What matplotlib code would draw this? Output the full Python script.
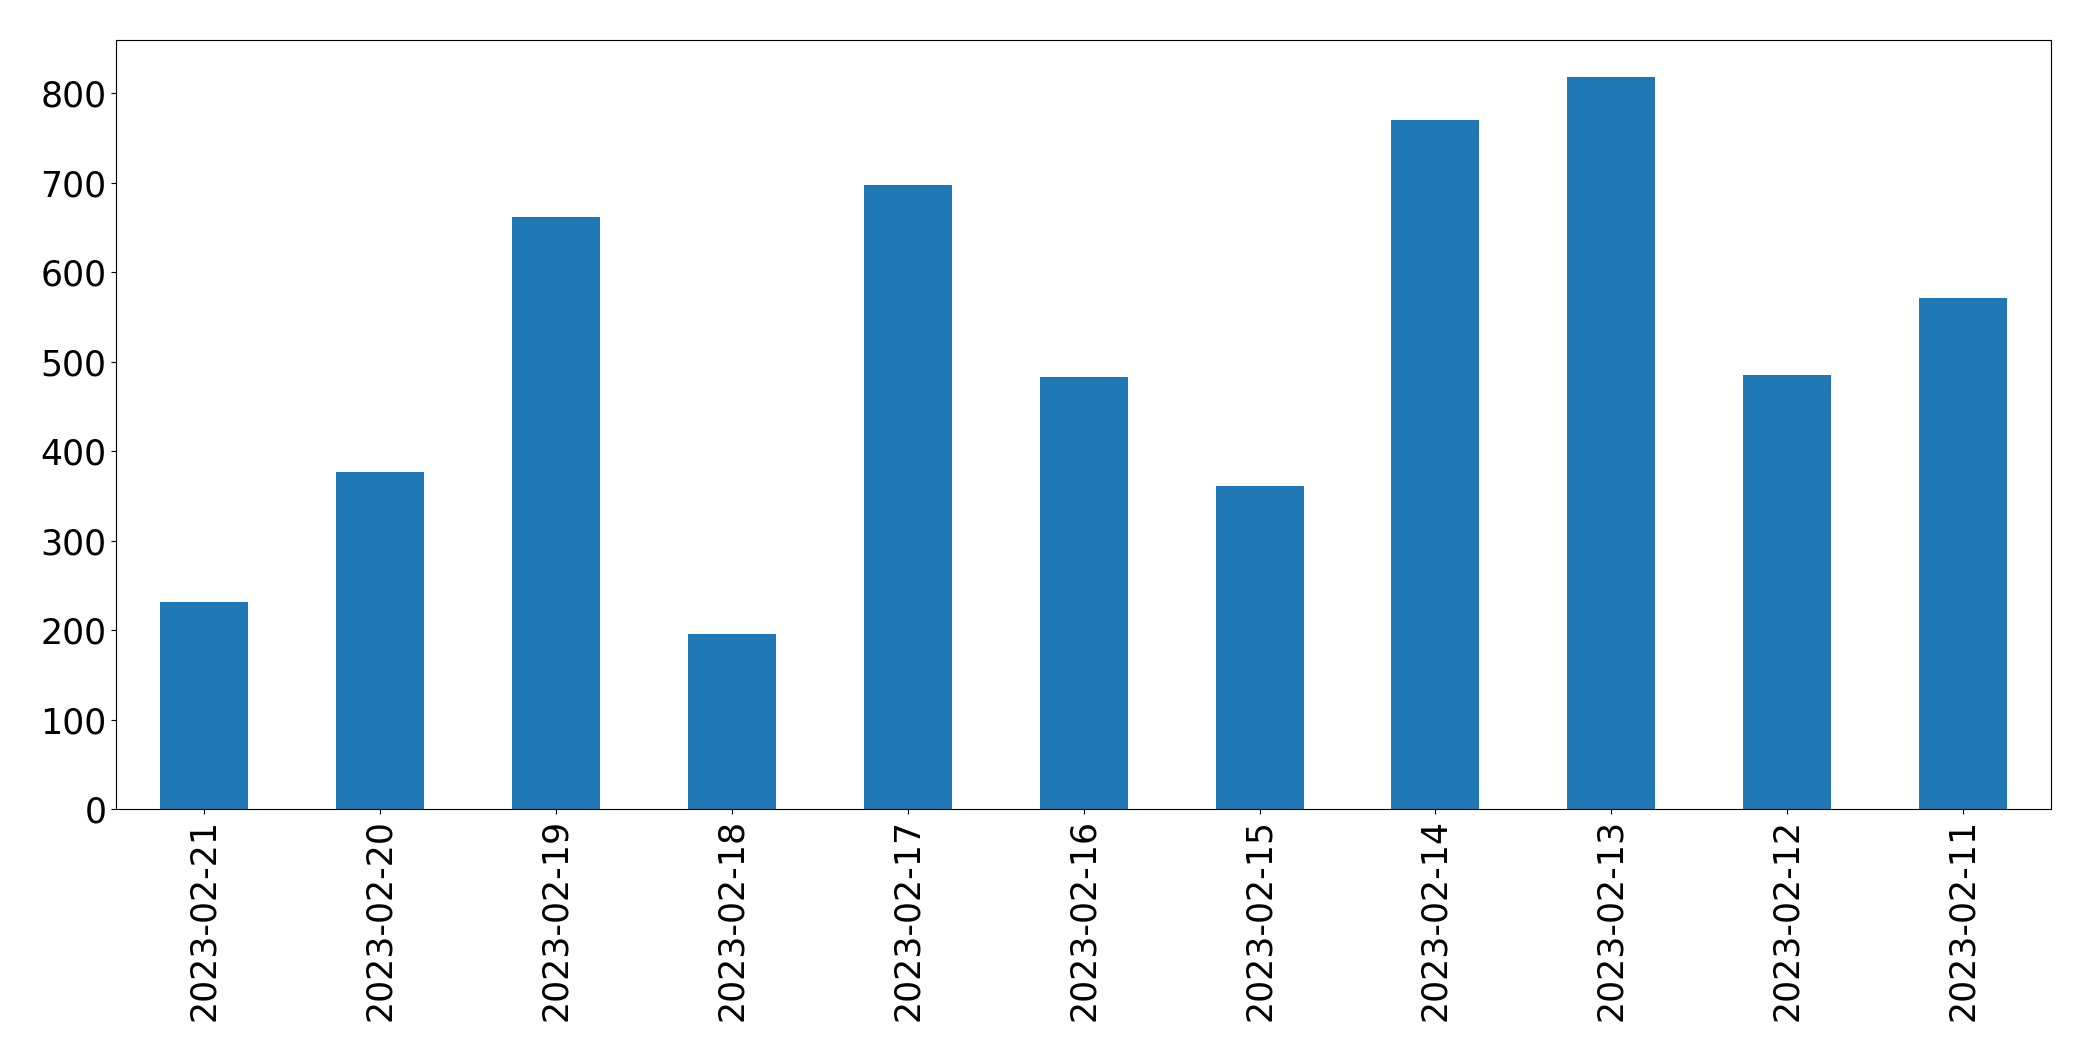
import matplotlib
matplotlib.use("Agg")
import matplotlib.pyplot as plt
import numpy as np

dates = ['2023-02-21', '2023-02-20', '2023-02-19', '2023-02-18', '2023-02-17', '2023-02-16',
         '2023-02-15', '2023-02-14', '2023-02-13', '2023-02-12', '2023-02-11']
counts = [231, 377, 661, 196, 697, 483, 361, 770, 818, 485, 571]

def main():
    fig = plt.figure(figsize=(20.93, 10.61), dpi=100)
    ax = fig.add_axes([0.0555, 0.2375, 0.9245, 0.7245])

    x = np.arange(len(dates))
    ax.bar(x, counts, width=0.5, color='#1f77b4')

    ax.set_xlim(-0.5, len(dates) - 0.5)
    ax.set_ylim(0, max(counts) * 1.05)
    ax.set_xticks(x)
    ax.set_xticklabels(dates, rotation=90)
    ax.tick_params(axis='both', labelsize=25)

    fig.savefig('out.png', dpi=100)

if __name__ == "__main__":
    main()
